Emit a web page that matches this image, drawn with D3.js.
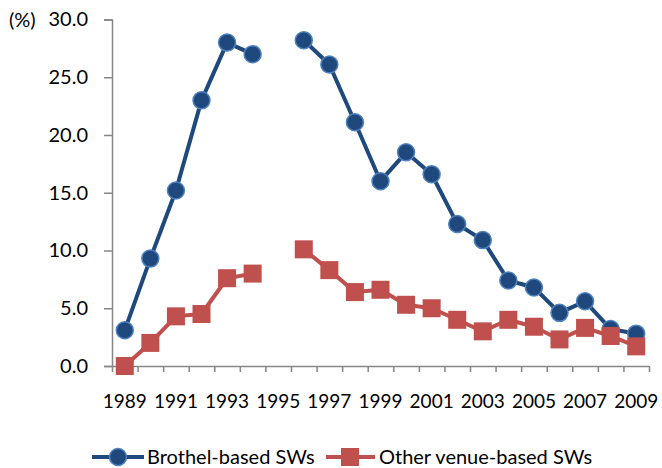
<!DOCTYPE html>
<html>
<head>
<meta charset="utf-8">
<script src="https://cdn.jsdelivr.net/npm/d3@7"></script>
<style>
  body { margin: 0; background: #fff; }
  svg text { font-family: Lato, "Open Sans", sans-serif; fill: #000; }
</style>
</head>
<body>
<script>
// data (1995 has no survey)
const years = d3.range(1989, 2010)
const brothel = [3.1, 9.3, 15.2, 23.0, 28.0, 27.0, null, 28.2, 26.1, 21.1, 16.0, 18.5, 16.6, 12.3, 10.9, 7.4, 6.8, 4.6, 5.6, 3.2, 2.8]
const otherVenue = [0.0, 2.0, 4.3, 4.5, 7.6, 8.0, null, 10.1, 8.3, 6.4, 6.6, 5.3, 5.0, 4.0, 3.0, 4.0, 3.4, 2.3, 3.3, 2.6, 1.7]
const yTicks = [0, 5, 10, 15, 20, 25, 30]
const seriesNames = ["Brothel-based SWs", "Other venue-based SWs"]

const width = 662, height = 468
const mLeft = 112, mRight = 649, mTop = 19.5, mBottom = 366

const svg = d3.select("body").append("svg")
  .attr("width", width)
  .attr("height", height)

const x = d3.scaleBand().domain(years).range([mLeft, mRight]).padding(0)
const y = d3.scaleLinear().domain([0, 30]).range([mBottom, mTop])
// index scale for tick marks between categories
const xi = d3.scaleLinear().domain([0, years.length]).range([mLeft, mRight])

const axisColor = "#868686"

// y axis
const yAxis = svg.append("g")
  .attr("transform", `translate(${mLeft},0)`)
  .call(d3.axisLeft(y).tickValues(yTicks).tickFormat(d3.format(".1f")).tickSize(8).tickPadding(16))
yAxis.select(".domain").attr("stroke", axisColor).attr("stroke-width", 1.5)
yAxis.selectAll(".tick line").attr("stroke", axisColor).attr("stroke-width", 1.5)
yAxis.selectAll(".tick text").attr("font-size", 20).attr("font-family", "Lato")

svg.append("text")
  .attr("x", 9)
  .attr("y", y(30))
  .attr("dy", "0.35em")
  .attr("font-size", 20)
  .text("(%)")

// x axis: tick marks between categories
const xAxis = svg.append("g")
  .attr("transform", `translate(0,${mBottom})`)
  .call(d3.axisBottom(xi).tickValues(d3.range(years.length + 1)).tickFormat("").tickSize(6).tickSizeOuter(0))
xAxis.select(".domain").attr("stroke", axisColor).attr("stroke-width", 1.5)
xAxis.selectAll(".tick line").attr("stroke", axisColor).attr("stroke-width", 1.5)

// x labels, every second year
const xLab = svg.append("g")
  .attr("transform", `translate(0,${mBottom})`)
  .call(d3.axisBottom(x).tickValues(years.filter((d, i) => i % 2 == 0)).tickSize(0).tickPadding(29))
xLab.select(".domain").remove()
xLab.selectAll(".tick text").attr("font-size", 19).attr("font-family", "Lato")

const cx = (d, i) => x(years[i]) + x.bandwidth() / 2

const line = d3.line()
  .defined(d => d != null)
  .x(cx)
  .y(d => y(d))

// brothel series
svg.append("path")
  .datum(brothel)
  .attr("d", line)
  .attr("fill", "none")
  .attr("stroke", "#1F497D")
  .attr("stroke-width", 4)
  .attr("stroke-linejoin", "round")

// other venue series
svg.append("path")
  .datum(otherVenue)
  .attr("d", line)
  .attr("fill", "none")
  .attr("stroke", "#C0504D")
  .attr("stroke-width", 4)
  .attr("stroke-linejoin", "round")

svg.append("g").selectAll("circle")
  .data(brothel.map((v, i) => ({ v, i })).filter(d => d.v != null))
  .enter()
  .append("circle")
  .attr("cx", d => cx(d.v, d.i))
  .attr("cy", d => y(d.v))
  .attr("r", 8.5)
  .attr("fill", "#1F497D")
  .attr("stroke", "#4F81BD")
  .attr("stroke-width", 1.5)

const sq = 18
svg.append("g").selectAll("rect")
  .data(otherVenue.map((v, i) => ({ v, i })).filter(d => d.v != null))
  .enter()
  .append("rect")
  .attr("x", d => cx(d.v, d.i) - sq / 2)
  .attr("y", d => y(d.v) - sq / 2)
  .attr("width", sq)
  .attr("height", sq)
  .attr("fill", "#C0504D")

// legend
const ly = 457
const leg = svg.append("g")
leg.append("line").attr("x1", 92).attr("x2", 144).attr("y1", ly).attr("y2", ly)
  .attr("stroke", "#1F497D").attr("stroke-width", 4)
leg.append("circle").attr("cx", 118).attr("cy", ly).attr("r", 8.5)
  .attr("fill", "#1F497D").attr("stroke", "#4F81BD").attr("stroke-width", 1.5)
leg.append("text").attr("x", 147).attr("y", ly).attr("dy", "0.35em")
  .attr("font-size", 20).text(seriesNames[0])

leg.append("line").attr("x1", 326).attr("x2", 375).attr("y1", ly).attr("y2", ly)
  .attr("stroke", "#C0504D").attr("stroke-width", 4)
leg.append("rect").attr("x", 350 - sq / 2).attr("y", ly - sq / 2).attr("width", sq).attr("height", sq)
  .attr("fill", "#C0504D")
leg.append("text").attr("x", 379).attr("y", ly).attr("dy", "0.35em")
  .attr("font-size", 20).text(seriesNames[1])
</script>
</body>
</html>
